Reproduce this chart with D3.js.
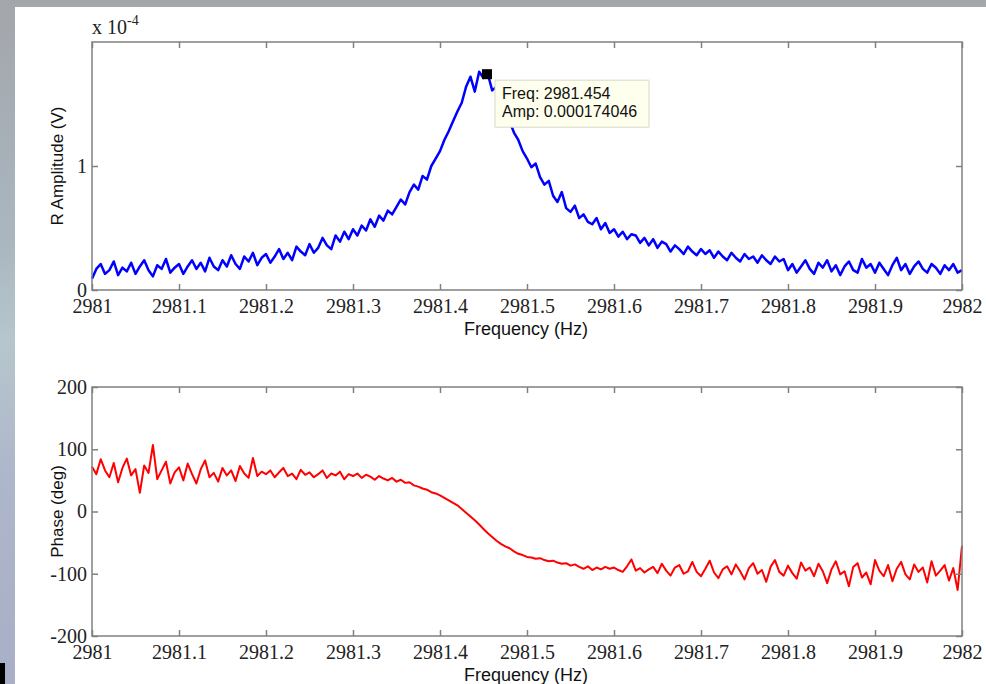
<!DOCTYPE html>
<meta charset="utf-8">
<style>
body { margin: 0; background: linear-gradient(180deg, #a3a6ab 0%, #aab6bf 35%, #b6c6cc 50%, #aeb6cb 70%, #a9afc6 100%); }
svg { display: block; }
.tick text { font-family: "Liberation Serif", "Times New Roman", serif; font-size: 20px; fill: #222; }
.tick line { stroke: #808080; stroke-width: 1.5; }
.domain { display: none; }
.xlbl { font-family: "Liberation Sans", Arial, sans-serif; font-size: 18px; fill: #111; }
.ylbl { font-family: "Liberation Sans", Arial, sans-serif; font-size: 17px; fill: #111; }
</style>
<svg width="986" height="684"></svg>
<script src="https://cdn.jsdelivr.net/npm/d3@7"></script>
<script>
// sweep grid: 2981.000 .. 2982.000 Hz, 0.005 Hz step
var fStart = 2981, fStep = 0.005;

// R amplitude, units of 1e-4 V
var amp = [
  0.09,0.17,0.21,0.13,0.16,0.23,0.12,0.18,0.15,0.22,
  0.13,0.19,0.24,0.16,0.11,0.20,0.17,0.25,0.14,0.18,
  0.21,0.13,0.19,0.24,0.17,0.22,0.15,0.26,0.19,0.16,
  0.24,0.19,0.28,0.21,0.17,0.27,0.23,0.30,0.20,0.26,
  0.29,0.22,0.27,0.33,0.25,0.30,0.24,0.35,0.31,0.28,
  0.37,0.30,0.34,0.42,0.36,0.33,0.44,0.39,0.47,0.41,
  0.49,0.44,0.52,0.48,0.57,0.51,0.60,0.56,0.64,0.61,
  0.67,0.73,0.69,0.79,0.85,0.81,0.92,0.89,1.00,1.06,
  1.12,1.21,1.28,1.36,1.44,1.51,1.64,1.72,1.60,1.76,
  1.71,1.74,1.61,1.64,1.52,1.44,1.36,1.27,1.21,1.12,
  1.06,0.99,1.02,0.91,0.85,0.88,0.76,0.71,0.79,0.66,
  0.63,0.68,0.58,0.61,0.55,0.53,0.58,0.49,0.54,0.46,
  0.49,0.43,0.47,0.41,0.45,0.44,0.38,0.42,0.36,0.41,
  0.34,0.39,0.37,0.31,0.36,0.33,0.29,0.35,0.31,0.28,
  0.33,0.29,0.32,0.26,0.31,0.27,0.24,0.30,0.26,0.23,
  0.29,0.25,0.27,0.22,0.28,0.24,0.21,0.27,0.23,0.25,
  0.16,0.21,0.14,0.19,0.24,0.17,0.13,0.22,0.18,0.24,
  0.15,0.20,0.12,0.19,0.23,0.16,0.14,0.25,0.18,0.21,
  0.14,0.22,0.17,0.12,0.20,0.26,0.16,0.21,0.13,0.19,
  0.23,0.17,0.14,0.21,0.18,0.13,0.20,0.16,0.21,0.14,
  0.16
];

// phase, degrees
var phase = [
  72,60,84,66,55,78,47,70,85,58,
  68,30,74,62,107,52,66,80,45,63,
  71,50,77,60,45,68,82,55,62,48,
  70,58,66,49,73,61,54,86,57,64,
  60,66,55,63,70,57,61,52,67,59,
  63,55,60,66,54,61,58,64,52,60,
  57,61,54,59,56,51,57,53,50,54,
  48,51,46,47,42,40,37,35,31,29,
  26,22,18,14,10,4,-2,-8,-14,-21,
  -28,-35,-41,-47,-52,-56,-59,-64,-68,-70,
  -73,-74,-76,-75,-78,-80,-79,-82,-84,-83,
  -87,-85,-89,-92,-88,-94,-90,-93,-89,-92,
  -90,-94,-97,-88,-77,-95,-91,-98,-93,-89,
  -99,-84,-95,-103,-90,-86,-100,-96,-81,-97,
  -104,-92,-79,-98,-107,-93,-88,-101,-85,-96,
  -109,-91,-83,-100,-94,-113,-89,-78,-97,-103,
  -87,-99,-108,-82,-95,-90,-104,-84,-96,-115,
  -93,-80,-101,-96,-120,-89,-83,-106,-98,-117,
  -78,-95,-104,-86,-112,-92,-81,-101,-109,-85,
  -97,-90,-114,-80,-103,-95,-86,-111,-91,-126,
  -55
];

var freqTicks = [2981, 2981.1, 2981.2, 2981.3, 2981.4, 2981.5, 2981.6, 2981.7, 2981.8, 2981.9, 2982];
var freqLabels = ["2981", "2981.1", "2981.2", "2981.3", "2981.4", "2981.5", "2981.6", "2981.7", "2981.8", "2981.9", "2982"];
var ampTicks = [0, 1];
var phaseTicks = [-200, -100, 0, 100, 200];

// data tip
var tipFreq = 2981.454, tipAmp = 1.74046;
var tipLines = ["Freq: 2981.454", "Amp: 0.000174046"];

var svg = d3.select("svg");

// white figure area over the slide background
svg.append("rect").attr("x", 15).attr("y", 7).attr("width", 971).attr("height", 677).attr("fill", "#fff");
svg.append("rect").attr("x", 0).attr("y", 663).attr("width", 5).attr("height", 21).attr("fill", "#000");

var x = d3.scaleLinear().domain([2981, 2982]).range([92, 962]);
var yA = d3.scaleLinear().domain([0, 2]).range([290, 42]);
var yP = d3.scaleLinear().domain([-200, 200]).range([636, 387]);

function panel(y, yTicks, yLabel, data, color, lw) {
  var top = y.range()[1], bot = y.range()[0];

  var line = d3.line()
    .x(function(d, i) { return x(fStart + i * fStep); })
    .y(function(d) { return y(d); });

  svg.append("path")
    .datum(data)
    .attr("fill", "none")
    .attr("stroke", color)
    .attr("stroke-width", lw)
    .attr("stroke-linejoin", "round")
    .attr("d", line);

  svg.append("g")
    .attr("transform", "translate(0," + bot + ")")
    .call(d3.axisBottom(x).tickValues(freqTicks).tickSize(-6).tickPadding(9)
      .tickFormat(function(d, i) { return freqLabels[i]; }));
  svg.append("g")
    .attr("transform", "translate(0," + top + ")")
    .call(d3.axisTop(x).tickValues(freqTicks).tickSize(-6).tickFormat(""));
  svg.append("g")
    .attr("transform", "translate(92,0)")
    .call(d3.axisLeft(y).tickValues(yTicks).tickSize(-6).tickPadding(5)
      .tickFormat(function(d) { return String(d); }));
  svg.append("g")
    .attr("transform", "translate(962,0)")
    .call(d3.axisRight(y).tickValues(yTicks).tickSize(-6).tickFormat(""));

  svg.append("rect")
    .attr("x", 92).attr("y", top)
    .attr("width", 870).attr("height", bot - top)
    .attr("fill", "none")
    .attr("stroke", "#808080")
    .attr("stroke-width", 1.5);

  svg.append("text")
    .attr("class", "xlbl")
    .attr("x", 526).attr("y", bot + 45)
    .attr("text-anchor", "middle")
    .text("Frequency (Hz)");

  svg.append("text")
    .attr("class", "ylbl")
    .attr("transform", "translate(63," + ((top + bot) / 2) + ") rotate(-90)")
    .attr("text-anchor", "middle")
    .text(yLabel);
}

panel(yA, ampTicks, "R Amplitude (V)", amp, "#0000ff", 2.5);
panel(yP, phaseTicks, "Phase (deg)", phase, "#ff0000", 2);

// exponent label
var ex = svg.append("text")
  .attr("x", 92).attr("y", 34)
  .style("font-family", "Liberation Serif, serif")
  .style("font-size", "20px")
  .attr("fill", "#222");
ex.append("tspan").text("x 10");
ex.append("tspan").attr("dy", -9).style("font-size", "14px").text("-4");

// data tip marker and box
var mx = x(tipFreq), my = yA(tipAmp);
svg.append("rect")
  .attr("x", mx - 5).attr("y", my - 5)
  .attr("width", 10).attr("height", 10)
  .attr("fill", "#000");

var tip = svg.append("g").attr("transform", "translate(" + (mx + 8) + "," + (my + 6) + ")");
tip.append("rect")
  .attr("width", 154).attr("height", 47)
  .attr("fill", "#ffffee")
  .attr("stroke", "#d8d8cc");
tip.selectAll("text")
  .data(tipLines)
  .enter().append("text")
    .attr("x", 7)
    .attr("y", function(d, i) { return 19 + i * 18; })
    .style("font-family", "Liberation Sans, Arial, sans-serif")
    .style("font-size", "16px")
    .attr("fill", "#111")
    .text(function(d) { return d; });
</script>
